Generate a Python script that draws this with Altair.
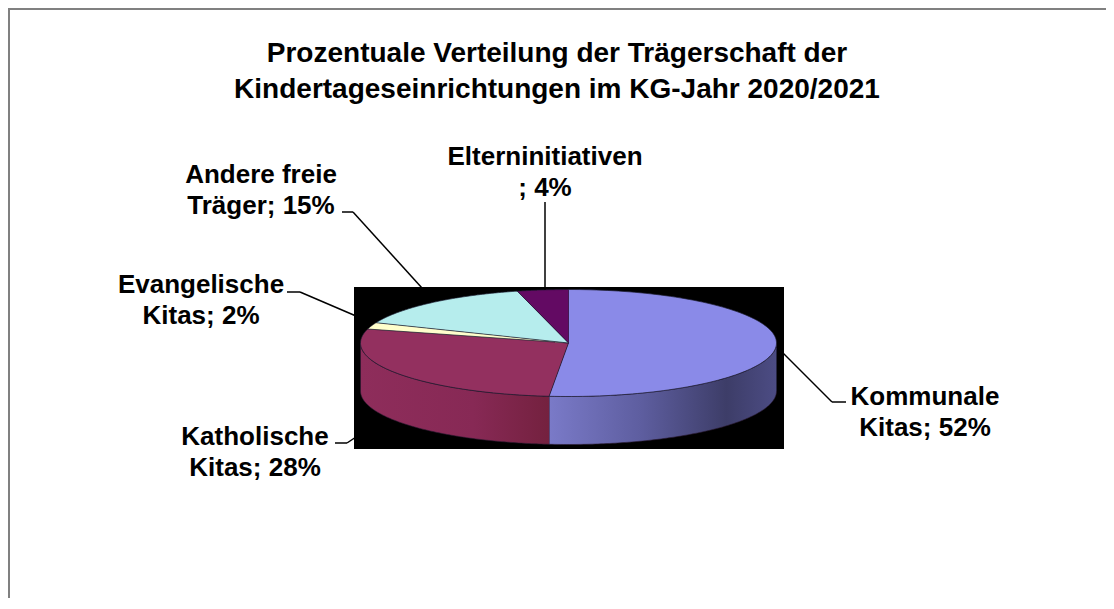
import altair as alt
import pandas as pd

# ---- data ----
categories = ["Kommunale Kitas", "Katholische Kitas", "Evangelische Kitas",
              "Andere freie Träger", "Elterninitiativen"]
values = [52, 28, 2, 15, 4]
title_lines = ["Prozentuale Verteilung der Trägerschaft der",
               "Kindertageseinrichtungen im KG-Jahr 2020/2021"]

# ---- styles / layout ----
top_colors = ["#8A8AE8", "#93305F", "#FFFFCC", "#B6EDED", "#630A63"]
side_gradients = [
    [("#7A7AC8", 0.0), ("#5E5EA0", 0.4), ("#3D3D68", 0.78), ("#4C4C84", 1.0)],
    [("#8E2D5B", 0.0), ("#872955", 0.6), ("#74213F", 1.0)],
    [("#E6E6B0", 0.0), ("#C8C890", 1.0)],
    [("#9CD0D0", 0.0), ("#78A8A8", 1.0)],
    [("#550055", 0.0), ("#3A003A", 1.0)],
]
# label anchor (center x, first baseline y) in page pixels
label_pos = [(925, 405), (255, 445), (201, 293), (261, 183), (545, 165)]
# leader line segments in page pixels
leader_segments = [
    (777, 347, 832, 402), (832, 402, 846, 402),
    (335, 443, 347, 443), (347, 443, 356, 437),
    (287, 292, 300, 292), (300, 292, 356, 316),
    (342, 212, 353, 212), (353, 212, 422, 288),
    (545, 202, 545, 290),
]

W, H = 1098, 590
CX, CY, RX, RY, T = 568.5, 343.0, 208.0, 53.5, 48.0
N = 120
FONT = "Liberation Sans"

xs = alt.Scale(domain=[8, 8 + W], range=[0, W], nice=False, zero=False)
ys = alt.Scale(domain=[8, 8 + H], range=[0, H], nice=False, zero=False)

df = pd.DataFrame({"cat": categories, "val": values, "idx": list(range(len(values)))})


def label_text(cat, v):
    if " " in cat:
        a, b = cat.rsplit(" ", 1)
        return f"{a}\n{b}; {v}%"
    return f"{cat}\n; {v}%"


lab = pd.DataFrame({
    "text": [label_text(c, v) for c, v in zip(categories, values)],
    "lx": [p[0] for p in label_pos],
    "ly": [p[1] for p in label_pos],
})


def angles(ch):
    return (ch.transform_window(cum="sum(val)", sort=[alt.SortField("idx")], frame=[None, 0])
              .transform_joinaggregate(total="sum(val)")
              .transform_calculate(a0="2*PI*(datum.cum-datum.val)/datum.total",
                                   a1="2*PI*datum.cum/datum.total"))


# frame lines (top and left only)
frame_left = alt.Chart(pd.DataFrame({"a": [0]})).mark_rule(color="#808080", strokeWidth=2).encode(
    x=alt.value(1), y=alt.value(0), y2=alt.value(H))
frame_top = alt.Chart(pd.DataFrame({"a": [0]})).mark_rule(color="#808080", strokeWidth=2).encode(
    y=alt.value(1), x=alt.value(0), x2=alt.value(W))

# black plot area
plot_bg = alt.Chart(pd.DataFrame({"a": [0]})).mark_rect(color="black").encode(
    x=alt.X("x1:Q", scale=xs, axis=None), x2="x2:Q",
    y=alt.Y("y1:Q", scale=ys, axis=None), y2="y2:Q",
).transform_calculate(x1="354", x2="784", y1="287", y2="449")

# side walls (front half only)
side_layers = []
for cat, grad in zip(categories, side_gradients):
    M = N
    side = (angles(alt.Chart(df))
            .transform_filter(alt.datum.cat == cat)
            .transform_calculate(s0="max(datum.a0, PI/2)", s1="min(datum.a1, 3*PI/2)")
            .transform_filter("datum.s1 > datum.s0")
            .transform_calculate(k=f"sequence(0, {2 * M + 2})")
            .transform_flatten(["k"])
            .transform_calculate(
                ang=f"datum.k <= {M} ? datum.s0 + (datum.s1-datum.s0)*datum.k/{M} : datum.s1 - (datum.s1-datum.s0)*(datum.k-{M}-1)/{M}")
            .transform_calculate(
                px=f"{CX} + {RX}*sin(datum.ang)",
                py=f"{CY} - {RY}*cos(datum.ang) + (datum.k <= {M} ? 0 : {T})")
            .mark_line(filled=True,
                       fill=alt.Gradient(gradient="linear", x1=0, x2=1, y1=0, y2=0,
                                         stops=[alt.GradientStop(color=c, offset=o) for c, o in grad]),
                       stroke="#2a1a30", strokeWidth=0.6)
            .encode(x=alt.X("px:Q", scale=xs, axis=None),
                    y=alt.Y("py:Q", scale=ys, axis=None),
                    order=alt.Order("k:Q"),
                    detail="cat:N"))
    side_layers.append(side)

# top faces
tops = (angles(alt.Chart(df))
        .transform_calculate(k=f"sequence(0, {N + 2})")
        .transform_flatten(["k"])
        .transform_calculate(ang=f"datum.a0 + (datum.a1-datum.a0)*(datum.k-1)/{N}")
        .transform_calculate(
            px=f"datum.k == 0 ? {CX} : {CX} + {RX}*sin(datum.ang)",
            py=f"datum.k == 0 ? {CY} : {CY} - {RY}*cos(datum.ang)")
        .mark_line(filled=True, stroke="#1c1c30", strokeWidth=0.7)
        .encode(x=alt.X("px:Q", scale=xs, axis=None),
                y=alt.Y("py:Q", scale=ys, axis=None),
                order=alt.Order("k:Q"),
                detail="cat:N",
                color=alt.Color("cat:N", scale=alt.Scale(domain=categories, range=top_colors),
                                legend=None)))

# leader lines
seg = pd.DataFrame(leader_segments, columns=["x1", "y1", "x2", "y2"])
leaders = alt.Chart(seg).mark_rule(color="black", strokeWidth=1.5).encode(
    x=alt.X("x1:Q", scale=xs, axis=None), y=alt.Y("y1:Q", scale=ys, axis=None),
    x2="x2:Q", y2="y2:Q")

labels = alt.Chart(lab).mark_text(
    align="center", baseline="alphabetic", font=FONT, fontSize=26, fontWeight="bold",
    lineBreak="\n", lineHeight=31, color="black"
).encode(x=alt.X("lx:Q", scale=xs, axis=None), y=alt.Y("ly:Q", scale=ys, axis=None),
         text="text:N")

tdf = pd.DataFrame({"text": ["\n".join(title_lines)], "tx": [557], "ty": [62]})
title = alt.Chart(tdf).mark_text(
    align="center", baseline="alphabetic", font=FONT, fontSize=28, fontWeight="bold",
    lineBreak="\n", lineHeight=36, color="black"
).encode(x=alt.X("tx:Q", scale=xs, axis=None), y=alt.Y("ty:Q", scale=ys, axis=None),
         text="text:N")

chart = alt.layer(frame_left, frame_top, plot_bg, *side_layers, tops, leaders, labels, title).properties(
    width=W, height=H, autosize=alt.AutoSizeParams(type="none"), padding=0, background="white"
).configure_view(stroke="transparent")

chart.save("out.html", embed_options={"renderer": "svg", "actions": False})
